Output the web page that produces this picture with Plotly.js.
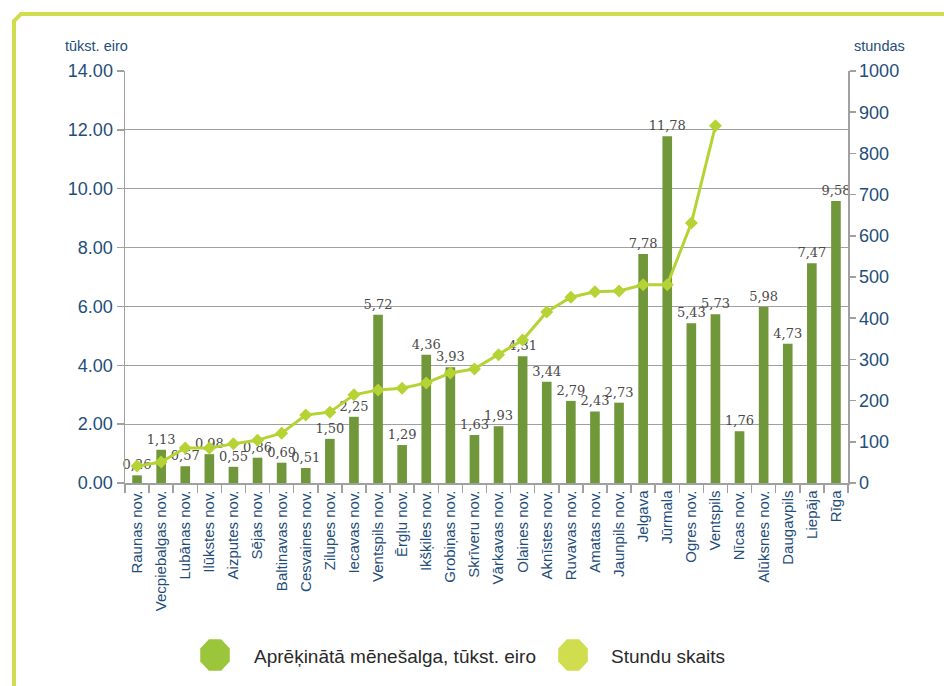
<!DOCTYPE html>
<html>
<head>
<meta charset="utf-8">
<script src="https://cdn.plot.ly/plotly-3.0.1.min.js"></script>
<style>
  html, body { margin: 0; padding: 0; background: #ffffff; }
  #chart { width: 944px; height: 686px; }
</style>
</head>
<body>
<div id="chart"></div>
<script>
// ---- Data ----
const categories = [
  "Raunas nov.", "Vecpiebalgas nov.", "Lubānas nov.", "Ilūkstes nov.", "Aizputes nov.",
  "Sējas nov.", "Baltinavas nov.", "Cesvaines nov.", "Zilupes nov.", "Iecavas nov.",
  "Ventspils nov.", "Ērgļu nov.", "Ikšķiles nov.", "Grobiņas nov.", "Skrīveru nov.",
  "Vārkavas nov.", "Olaines nov.", "Aknīstes nov.", "Ruvavas nov.", "Amatas nov.",
  "Jaunpils nov.", "Jelgava", "Jūrmala", "Ogres nov.", "Ventspils",
  "Nīcas nov.", "Alūksnes nov.", "Daugavpils", "Liepāja", "Rīga"
];
const salary = [
  0.26, 1.13, 0.57, 0.98, 0.55,
  0.86, 0.69, 0.51, 1.50, 2.25,
  5.72, 1.29, 4.36, 3.93, 1.63,
  1.93, 4.31, 3.44, 2.79, 2.43,
  2.73, 7.78, 11.78, 5.43, 5.73,
  1.76, 5.98, 4.73, 7.47, 9.58
];
const hours = [
  41, 51, 85, 85, 95,
  104, 121, 165, 172, 214,
  226, 230, 243, 267, 277,
  311, 347, 415, 451, 464,
  466, 481, 481, 631, 867,
  null, null, null, null, null
];
const seriesNames = ["Aprēķinātā mēnešalga, tūkst. eiro", "Stundu skaits"];
const leftAxisTitle = "tūkst. eiro";
const rightAxisTitle = "stundas";

// ---- Styling ----
const W = 944, H = 686;
const M = { l: 125, r: 96, t: 71, b: 203 };
const PW = W - M.l - M.r, PH = H - M.t - M.b;
const px = x => (x - M.l) / PW;
const py = y => (H - M.b - y) / PH;

const BLUE = "#1f4e79";
const SANS = "'Liberation Sans', Arial, sans-serif";
const BAR = "#71973b";
const LINE = "#b5d335";
const LEG_BAR = "#9bc63c";
const LEG_LINE = "#cfdd4f";
const FRAME = "#cfdd4e";

const labels = salary.map(v => v.toFixed(2).replace(".", ","));

const traces = [
  {
    type: "bar",
    x: categories,
    y: salary,
    name: seriesNames[0],
    marker: { color: BAR },
    text: labels,
    textposition: "outside",
    textfont: { family: "'DejaVu Serif', 'Liberation Serif', serif", size: 13, color: "#4a4a4a" },
    constraintext: "none",
    cliponaxis: false,
    showlegend: false,
    hoverinfo: "x+y"
  },
  {
    type: "scatter",
    mode: "lines+markers",
    x: categories,
    y: hours,
    yaxis: "y2",
    name: seriesNames[1],
    line: { color: LINE, width: 3 },
    marker: { symbol: "diamond", size: 10, color: LINE },
    connectgaps: false,
    showlegend: false,
    cliponaxis: false
  }
];

// custom legend (octagon markers)
function octagon(cx, cy, rx, ry) {
  let d = "";
  for (let k = 0; k < 8; k++) {
    const a = (22.5 + 45 * k) * Math.PI / 180;
    const x = px(cx + rx * Math.cos(a));
    const y = py(cy + ry * Math.sin(a));
    d += (k === 0 ? "M " : " L ") + x + "," + y;
  }
  return d + " Z";
}

const shapes = [
  {
    type: "path", xref: "paper", yref: "paper",
    path: "M " + px(14) + "," + py(692) + " L " + px(14) + "," + py(21) +
          " L " + px(21) + "," + py(14) + " L " + px(950) + "," + py(14),
    line: { color: FRAME, width: 4 }
  },
  { type: "path", xref: "paper", yref: "paper", path: octagon(215, 655, 16, 17),
    fillcolor: LEG_BAR, line: { width: 0 } },
  { type: "path", xref: "paper", yref: "paper", path: octagon(573, 655, 16, 17),
    fillcolor: LEG_LINE, line: { width: 0 } }
];

const annotations = [
  { text: leftAxisTitle, xref: "paper", yref: "paper", x: px(63), y: py(46),
    xanchor: "left", yanchor: "middle", showarrow: false,
    font: { family: SANS, size: 14.5, color: BLUE } },
  { text: rightAxisTitle, xref: "paper", yref: "paper", x: px(852), y: py(46),
    xanchor: "left", yanchor: "middle", showarrow: false,
    font: { family: SANS, size: 14.5, color: BLUE } },
  { text: seriesNames[0], xref: "paper", yref: "paper", x: px(252), y: py(656),
    xanchor: "left", yanchor: "middle", showarrow: false,
    font: { family: SANS, size: 19, color: "#2a2a2a" } },
  { text: seriesNames[1], xref: "paper", yref: "paper", x: px(609), y: py(656),
    xanchor: "left", yanchor: "middle", showarrow: false,
    font: { family: SANS, size: 19, color: "#2a2a2a" } }
];

const layout = {
  width: W, height: H,
  margin: M,
  paper_bgcolor: "#ffffff",
  plot_bgcolor: "#ffffff",
  showlegend: false,
  bargap: 0.6,
  xaxis: {
    type: "category",
    range: [-0.5, categories.length - 0.5],
    tickangle: -90,
    tickfont: { family: SANS, size: 15, color: BLUE },
    ticks: "outside", tickson: "boundaries", ticklen: 8, tickcolor: "#a0a0a0", tickwidth: 1.5,
    showline: true, linecolor: "#a0a0a0", linewidth: 1.5,
    showgrid: false, zeroline: false, automargin: false, fixedrange: true
  },
  yaxis: {
    range: [0, 14], dtick: 2, tick0: 0, tickformat: ".2f",
    tickfont: { family: SANS, size: 18, color: BLUE },
    ticks: "outside", ticklen: 7, tickcolor: "#a0a0a0", tickwidth: 1.5,
    showline: true, linecolor: "#a0a0a0", linewidth: 1.5,
    showgrid: true, gridcolor: "#a0a0a0", gridwidth: 1.2,
    zeroline: false, automargin: false, fixedrange: true
  },
  yaxis2: {
    overlaying: "y", side: "right",
    range: [0, 1000], dtick: 100, tick0: 0,
    tickfont: { family: SANS, size: 18, color: BLUE },
    ticks: "outside", ticklen: 6, tickcolor: "#a0a0a0", tickwidth: 1.5,
    showline: true, linecolor: "#a0a0a0", linewidth: 1.5,
    showgrid: false, zeroline: false, automargin: false, fixedrange: true
  },
  shapes: shapes,
  annotations: annotations
};

Plotly.newPlot("chart", traces, layout, { displayModeBar: false, staticPlot: true });
</script>
</body>
</html>
